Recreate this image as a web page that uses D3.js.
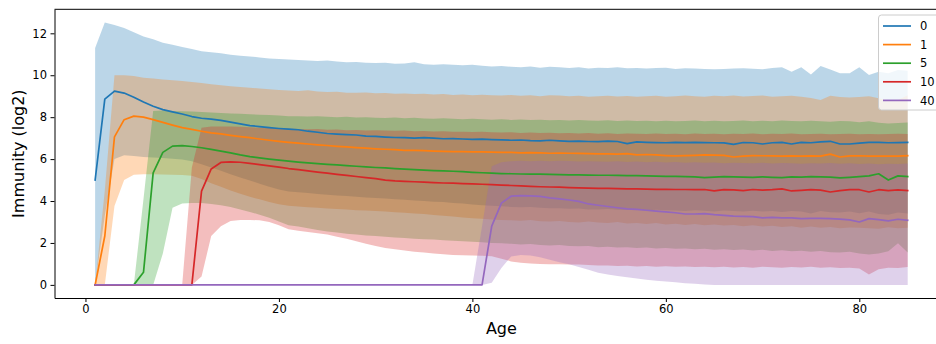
<!DOCTYPE html>
<html>
<head>
<meta charset="utf-8">
<script src="https://cdn.jsdelivr.net/npm/d3@7"></script>
<style>
  body { margin: 0; background: #fff; }
  svg { display: block; }
  text { font-family: "DejaVu Sans", sans-serif; fill: #000; }
</style>
</head>
<body>
<svg id="chart" width="936" height="344"></svg>
<script>
// Age axis
const ages = [
  1, 2, 3, 4, 5, 6, 7, 8, 9, 10,
  11, 12, 13, 14, 15, 16, 17, 18, 19, 20,
  21, 22, 23, 24, 25, 26, 27, 28, 29, 30,
  31, 32, 33, 34, 35, 36, 37, 38, 39, 40,
  41, 42, 43, 44, 45, 46, 47, 48, 49, 50,
  51, 52, 53, 54, 55, 56, 57, 58, 59, 60,
  61, 62, 63, 64, 65, 66, 67, 68, 69, 70,
  71, 72, 73, 74, 75, 76, 77, 78, 79, 80,
  81, 82, 83, 84, 85
];

const groups = ["0", "1", "5", "10", "40"];

// Group "0": mean line, lower and upper band
const mean0 = [
  5.0, 8.86, 9.24, 9.15, 8.95, 8.72, 8.52, 8.36, 8.25, 8.15,
  8.03, 7.95, 7.91, 7.85, 7.76, 7.68, 7.6, 7.55, 7.5, 7.46,
  7.43, 7.4, 7.33, 7.28, 7.22, 7.19, 7.17, 7.15, 7.1, 7.08,
  7.05, 7.03, 7.02, 7.0, 7.02, 7.0, 6.97, 6.98, 6.96, 6.94,
  6.95, 6.93, 6.92, 6.9, 6.91, 6.88, 6.87, 6.9, 6.87, 6.85,
  6.86, 6.84, 6.83, 6.86, 6.84, 6.74, 6.82, 6.8, 6.79, 6.78,
  6.8, 6.79, 6.8, 6.79, 6.78, 6.77, 6.7, 6.79, 6.78, 6.72,
  6.78, 6.8, 6.72, 6.8, 6.78, 6.82, 6.85, 6.72, 6.72, 6.76,
  6.8, 6.8, 6.78, 6.79, 6.8
];
const hi0 = [
  11.3, 12.52, 12.4, 12.25, 12.05, 11.85, 11.72, 11.55, 11.45, 11.35,
  11.25, 11.15, 11.1, 11.05, 10.98, 10.93, 10.9, 10.85, 10.8, 10.78,
  10.75, 10.73, 10.7, 10.68, 10.7, 10.66, 10.62, 10.63, 10.6, 10.58,
  10.6, 10.55, 10.56, 10.62, 10.52, 10.5, 10.52, 10.5, 10.48, 10.5,
  10.45, 10.42, 10.44, 10.4, 10.38, 10.42, 10.36, 10.4, 10.38, 10.35,
  10.38, 10.32, 10.36, 10.35, 10.38, 10.33, 10.35, 10.32, 10.34, 10.36,
  10.3, 10.33, 10.32, 10.3, 10.29, 10.3, 10.32, 10.33, 10.31, 10.29,
  10.35, 10.38, 10.17, 10.38, 10.04, 10.44, 10.28, 10.09, 10.09, 10.38,
  10.01, 10.17, 10.09, 10.25, 10.22
];
const lo0 = [
  0, 3.3, 6.0, 6.18, 6.15, 6.1, 6.08, 6.05, 6.02, 5.98,
  5.9, 5.75, 5.6, 5.45, 5.28, 5.12, 4.98, 4.83, 4.68, 4.55,
  4.45, 4.42, 4.38, 4.33, 4.3, 4.26, 4.24, 4.2, 4.17, 4.15,
  4.12, 4.08, 4.06, 4.03, 4.0, 3.97, 3.95, 3.9, 3.88, 3.84,
  3.8, 3.77, 3.75, 3.72, 3.7, 3.72, 3.68, 3.66, 3.65, 3.63,
  3.64, 3.6, 3.6, 3.62, 3.58, 3.57, 3.6, 3.55, 3.58, 3.56,
  3.55, 3.52, 3.56, 3.54, 3.5, 3.55, 3.52, 3.5, 3.54, 3.5,
  3.52, 3.48, 3.53, 3.5, 3.4, 3.52, 3.47, 3.45, 3.5, 3.42,
  3.5, 3.38, 3.35, 3.45, 3.4
];

// Group "1"
const mean1 = [
  0, 2.33, 7.06, 7.88, 8.05, 8.0, 7.88, 7.75, 7.62, 7.5,
  7.42, 7.33, 7.25, 7.2, 7.13, 7.07, 7.02, 6.96, 6.9, 6.85,
  6.8, 6.76, 6.72, 6.68, 6.65, 6.61, 6.58, 6.55, 6.52, 6.49,
  6.47, 6.45, 6.42, 6.42, 6.4, 6.38, 6.37, 6.36, 6.36, 6.34,
  6.34, 6.33, 6.32, 6.32, 6.3, 6.31, 6.3, 6.28, 6.29, 6.28,
  6.27, 6.26, 6.25, 6.25, 6.24, 6.26, 6.2, 6.22, 6.2, 6.17,
  6.15, 6.17, 6.18, 6.2, 6.19, 6.18, 6.1, 6.14, 6.17, 6.16,
  6.15, 6.14, 6.15, 6.14, 6.15, 6.14, 6.24, 6.1, 6.15, 6.16,
  6.14, 6.14, 6.14, 6.14, 6.16
];
const hi1 = [
  0, 4.5, 10.0, 10.0, 9.96, 9.88, 9.84, 9.8, 9.76, 9.72,
  9.68, 9.63, 9.57, 9.52, 9.48, 9.44, 9.4, 9.37, 9.33, 9.3,
  9.27, 9.25, 9.28, 9.22, 9.2, 9.21, 9.17, 9.16, 9.18, 9.14,
  9.15, 9.12, 9.13, 9.1, 9.12, 9.08, 9.1, 9.06, 9.08, 9.04,
  9.07, 9.05, 9.03, 9.06, 9.02, 9.04, 9.0, 9.05, 9.03, 9.0,
  9.02, 8.98, 9.0, 9.02, 8.99, 9.01, 8.98, 9.0, 9.02, 8.98,
  9.0, 9.03, 9.0, 8.98, 9.02, 9.0, 9.03, 8.99, 9.01, 9.03,
  8.98, 9.0, 9.02, 8.97, 8.92, 8.82, 9.02, 8.96, 8.94, 8.96,
  9.0, 8.9, 8.78, 8.82, 9.05
];
const lo1 = [
  0, 0, 3.76, 5.0, 5.25, 5.28, 5.28, 5.27, 5.25, 5.24,
  5.2, 5.05, 4.85, 4.68, 4.5, 4.35, 4.2, 4.08, 3.95, 3.85,
  3.78, 3.74, 3.7, 3.68, 3.64, 3.62, 3.6, 3.56, 3.55, 3.52,
  3.5, 3.46, 3.44, 3.4, 3.38, 3.33, 3.3, 3.26, 3.22, 3.18,
  3.16, 3.12, 3.1, 3.08, 3.06, 3.1, 3.04, 3.02, 3.05, 3.0,
  2.98, 3.02, 2.97, 2.95, 3.0, 2.93, 2.95, 2.9, 2.95, 2.88,
  2.92, 2.86, 2.9, 2.85, 2.88, 2.83, 2.86, 2.8, 2.84, 2.78,
  2.82, 2.76, 2.8, 2.73, 2.78, 2.72, 2.76, 2.7, 2.74, 2.72,
  2.7, 2.68, 2.75, 2.7, 2.72
];

// Group "5"
const mean2 = [
  0, 0, 0, 0, 0, 0.6, 5.34, 6.32, 6.62, 6.64,
  6.6, 6.54, 6.46, 6.38, 6.3, 6.2, 6.12, 6.06, 6.0, 5.95,
  5.9, 5.86, 5.82, 5.78, 5.75, 5.72, 5.69, 5.66, 5.63, 5.6,
  5.58, 5.55, 5.52, 5.5, 5.47, 5.45, 5.44, 5.42, 5.4, 5.37,
  5.35, 5.33, 5.31, 5.3, 5.29, 5.28, 5.28, 5.27, 5.26, 5.25,
  5.25, 5.24, 5.23, 5.23, 5.22, 5.21, 5.21, 5.2, 5.19, 5.18,
  5.18, 5.16, 5.15, 5.12, 5.14, 5.16, 5.15, 5.14, 5.13, 5.15,
  5.13, 5.12, 5.15, 5.14, 5.16, 5.15, 5.14, 5.1, 5.13, 5.16,
  5.2, 5.3, 5.0, 5.2, 5.17
];
const hi2 = [
  0, 0, 0, 0, 0, 4.1, 8.3, 8.32, 8.3, 8.28,
  8.27, 8.25, 8.22, 8.2, 8.18, 8.16, 8.14, 8.12, 8.1, 8.08,
  8.05, 8.04, 8.03, 8.05, 8.02, 8.0, 8.02, 7.98, 8.0, 7.97,
  7.96, 7.98, 7.95, 7.97, 7.94, 7.93, 7.95, 7.92, 7.9, 7.92,
  7.9, 7.88, 7.9, 7.87, 7.89, 7.86, 7.88, 7.85, 7.87, 7.84,
  7.86, 7.84, 7.83, 7.85, 7.82, 7.84, 7.82, 7.83, 7.81, 7.83,
  7.8, 7.82, 7.84, 7.81, 7.83, 7.8, 7.82, 7.84, 7.8, 7.83,
  7.81, 7.84, 7.82, 7.8, 7.83, 7.8, 7.78, 7.82, 7.8, 7.76,
  7.8, 7.74, 7.7, 7.72, 7.75
];
const lo2 = [
  0, 0, 0, 0, 0, 0, 0, 1.5, 3.68, 3.88,
  3.9, 3.9, 3.86, 3.8, 3.72, 3.6, 3.48, 3.35, 3.2, 3.02,
  2.85, 2.78, 2.7, 2.62, 2.55, 2.5, 2.44, 2.4, 2.36, 2.33,
  2.3, 2.26, 2.24, 2.2, 2.18, 2.16, 2.13, 2.1, 2.08, 2.06,
  2.03, 2.0, 1.98, 1.96, 1.93, 1.95, 1.9, 1.88, 1.9, 1.85,
  1.84, 1.86, 1.8, 1.82, 1.78, 1.8, 1.76, 1.78, 1.74, 1.76,
  1.72, 1.74, 1.7, 1.72, 1.68, 1.7, 1.66, 1.69, 1.64, 1.67,
  1.62, 1.65, 1.6, 1.63, 1.58, 1.62, 1.56, 1.55, 1.58, 1.5,
  1.45, 1.5, 1.6, 1.98, 1.55
];

// Group "10"
const mean3 = [
  0, 0, 0, 0, 0, 0, 0, 0, 0, 0,
  0, 4.47, 5.53, 5.84, 5.87, 5.85, 5.8, 5.74, 5.68, 5.62,
  5.55, 5.5, 5.44, 5.38, 5.33, 5.27, 5.22, 5.17, 5.12, 5.07,
  5.0, 4.96, 4.94, 4.92, 4.9, 4.88, 4.86, 4.85, 4.83, 4.82,
  4.8, 4.78, 4.76, 4.74, 4.72, 4.7, 4.68, 4.67, 4.66, 4.64,
  4.63, 4.62, 4.6, 4.6, 4.59, 4.58, 4.58, 4.57, 4.56, 4.56,
  4.55, 4.55, 4.54, 4.55, 4.48, 4.54, 4.53, 4.5, 4.55, 4.52,
  4.54, 4.58, 4.48, 4.51, 4.54, 4.52, 4.43, 4.5, 4.54, 4.54,
  4.43, 4.54, 4.5, 4.53, 4.5
];
const hi3 = [
  0, 0, 0, 0, 0, 0, 0, 0, 0, 0,
  5.6, 7.5, 7.56, 7.56, 7.55, 7.54, 7.52, 7.5, 7.48, 7.47,
  7.45, 7.44, 7.42, 7.43, 7.4, 7.41, 7.38, 7.39, 7.37, 7.38,
  7.36, 7.35, 7.36, 7.33, 7.34, 7.32, 7.33, 7.3, 7.31, 7.29,
  7.3, 7.28, 7.27, 7.28, 7.25, 7.27, 7.24, 7.26, 7.23, 7.25,
  7.22, 7.24, 7.21, 7.23, 7.2, 7.22, 7.21, 7.2, 7.22, 7.2,
  7.21, 7.19, 7.22, 7.2, 7.21, 7.19, 7.21, 7.2, 7.22, 7.19,
  7.21, 7.2, 7.22, 7.19, 7.2, 7.21, 7.18, 7.2, 7.21, 7.19,
  7.2, 7.18, 7.2, 7.21, 7.2
];
const lo3 = [
  0, 0, 0, 0, 0, 0, 0, 0, 0, 0,
  0, 0.4, 2.33, 2.8, 3.05, 3.1, 3.1, 3.08, 3.0, 2.85,
  2.65, 2.58, 2.52, 2.46, 2.4, 2.3, 2.2, 2.08, 1.96, 1.86,
  1.76, 1.7, 1.64, 1.58, 1.54, 1.5, 1.46, 1.43, 1.41, 1.4,
  1.39, 1.36, 1.25, 1.12, 1.05, 1.02, 1.0, 0.98, 0.98, 0.97,
  0.97, 0.95, 0.93, 0.92, 0.9, 0.91, 0.88, 0.9, 0.87, 0.89,
  0.86, 0.88, 0.85, 0.87, 0.84, 0.86, 0.83, 0.85, 0.82, 0.86,
  0.84, 0.82, 0.85, 0.83, 0.86, 0.82, 0.84, 0.8, 0.82, 0.78,
  0.5, 0.75, 0.82, 0.8, 0.85
];

// Group "40"
const mean4 = [
  0, 0, 0, 0, 0, 0, 0, 0, 0, 0,
  0, 0, 0, 0, 0, 0, 0, 0, 0, 0,
  0, 0, 0, 0, 0, 0, 0, 0, 0, 0,
  0, 0, 0, 0, 0, 0, 0, 0, 0, 0,
  0, 2.8, 3.9, 4.23, 4.26, 4.25, 4.22, 4.15, 4.1, 4.05,
  3.98, 3.86, 3.8, 3.74, 3.68, 3.63, 3.6, 3.56, 3.52, 3.48,
  3.44, 3.38, 3.38, 3.4, 3.35, 3.32, 3.28, 3.27, 3.26, 3.2,
  3.22, 3.2, 3.2, 3.16, 3.17, 3.17, 3.16, 3.14, 3.1, 3.0,
  3.16, 3.11, 3.05, 3.13, 3.08
];
const hi4 = [
  0, 0, 0, 0, 0, 0, 0, 0, 0, 0,
  0, 0, 0, 0, 0, 0, 0, 0, 0, 0,
  0, 0, 0, 0, 0, 0, 0, 0, 0, 0,
  0, 0, 0, 0, 0, 0, 0, 0, 0, 0,
  2.8, 5.66, 5.85, 5.9, 5.92, 5.9, 5.92, 5.9, 5.92, 5.91,
  5.88, 5.9, 5.89, 5.87, 5.9, 5.86, 5.88, 5.85, 5.87, 5.84,
  5.86, 5.83, 5.85, 5.82, 5.84, 5.8, 5.83, 5.81, 5.8, 5.82,
  5.79, 5.81, 5.8, 5.78, 5.8, 5.79, 5.81, 5.78, 5.8, 5.77,
  5.79, 5.76, 5.78, 5.77, 5.79
];
const lo4 = [
  0, 0, 0, 0, 0, 0, 0, 0, 0, 0,
  0, 0, 0, 0, 0, 0, 0, 0, 0, 0,
  0, 0, 0, 0, 0, 0, 0, 0, 0, 0,
  0, 0, 0, 0, 0, 0, 0, 0, 0, 0,
  0, 0.1, 0.8, 1.35, 1.42, 1.4, 1.32, 1.2, 1.08, 0.98,
  0.85, 0.72, 0.58, 0.5, 0.42, 0.36, 0.3, 0.25, 0.2, 0.16,
  0.12, 0.08, 0.05, 0.02, 0, 0, 0, 0, 0, 0,
  0, 0, 0, 0, 0, 0, 0, 0, 0, 0,
  0, 0, 0, 0, 0
];

const xTicks = [0, 20, 40, 60, 80];
const yTicks = [0, 2, 4, 6, 8, 10, 12];
const colors = ["#1f77b4", "#ff7f0e", "#2ca02c", "#d62728", "#9467bd"];

const series = [
  { name: groups[0], mean: mean0, lo: lo0, hi: hi0, color: colors[0] },
  { name: groups[1], mean: mean1, lo: lo1, hi: hi1, color: colors[1] },
  { name: groups[2], mean: mean2, lo: lo2, hi: hi2, color: colors[2] },
  { name: groups[3], mean: mean3, lo: lo3, hi: hi3, color: colors[3] },
  { name: groups[4], mean: mean4, lo: lo4, hi: hi4, color: colors[4] }
];

// Plot box (the right edge runs past the page edge)
const box = { left: 54.5, right: 948.3, top: 9.3, bottom: 298 };

// Domains with 5% padding on each side
const xExt = d3.extent(ages);
const xPad = (xExt[1] - xExt[0]) * 0.05;
const yMin = d3.min(series, s => d3.min(s.lo));
const yMax = d3.max(series, s => d3.max(s.hi));
const yPad = (yMax - yMin) * 0.05;

const x = d3.scaleLinear().domain([xExt[0] - xPad, xExt[1] + xPad]).range([box.left, box.right]);
const y = d3.scaleLinear().domain([yMin - yPad, yMax + yPad]).range([box.bottom, box.top]);

const svg = d3.select("#chart");

// Shaded bands
const gBands = svg.append("g");
series.forEach(s => {
  const area = d3.area()
    .x((d, i) => x(ages[i]))
    .y0((d, i) => y(s.lo[i]))
    .y1((d, i) => y(s.hi[i]));
  gBands.append("path")
    .datum(s.mean)
    .attr("d", area)
    .attr("fill", s.color)
    .attr("fill-opacity", 0.3)
    .attr("stroke", "none");
});

// Mean lines
const gLines = svg.append("g");
series.forEach(s => {
  const line = d3.line()
    .x((d, i) => x(ages[i]))
    .y(d => y(d));
  gLines.append("path")
    .datum(s.mean)
    .attr("d", line)
    .attr("fill", "none")
    .attr("stroke", s.color)
    .attr("stroke-width", 1.7)
    .attr("stroke-linejoin", "round")
    .attr("stroke-linecap", "square");
});

// Axes
const tickFont = 11.5;
const xAxis = svg.append("g")
  .attr("transform", `translate(0,${box.bottom})`)
  .call(d3.axisBottom(x).tickValues(xTicks).tickSize(4).tickSizeOuter(0).tickPadding(3.3).tickFormat(d3.format("d")));
const yAxis = svg.append("g")
  .attr("transform", `translate(${box.left},0)`)
  .call(d3.axisLeft(y).tickValues(yTicks).tickSize(4).tickSizeOuter(0).tickPadding(3.5).tickFormat(d3.format("d")));

[xAxis, yAxis].forEach(g => {
  g.attr("font-family", null).attr("font-size", null);
  g.select(".domain").attr("stroke", "#000").attr("stroke-width", 1);
  g.selectAll(".tick line").attr("stroke", "#000").attr("stroke-width", 1);
  g.selectAll(".tick text")
    .style("font-family", "'DejaVu Sans', sans-serif")
    .style("font-size", tickFont + "px")
    .attr("fill", "#000");
});

// Top and right frame lines
svg.append("line")
  .attr("x1", box.left).attr("x2", box.right)
  .attr("y1", box.top).attr("y2", box.top)
  .attr("stroke", "#000").attr("stroke-width", 1);
svg.append("line")
  .attr("x1", box.right).attr("x2", box.right)
  .attr("y1", box.top).attr("y2", box.bottom)
  .attr("stroke", "#000").attr("stroke-width", 1);

// Axis titles
svg.append("text")
  .attr("x", (box.left + box.right) / 2)
  .attr("y", 333.5)
  .attr("text-anchor", "middle")
  .style("font-size", "16px")
  .text("Age");
svg.append("text")
  .attr("transform", `translate(24,${(box.top + box.bottom) / 2}) rotate(-90)`)
  .attr("text-anchor", "middle")
  .style("font-size", "16px")
  .text("Immunity (log2)");

// Legend
const legend = svg.append("g").attr("transform", "translate(878.5,15)");
legend.append("rect")
  .attr("x", 0).attr("y", 0)
  .attr("width", 75).attr("height", 95)
  .attr("rx", 3).attr("ry", 3)
  .attr("fill", "#fff").attr("fill-opacity", 0.8)
  .attr("stroke", "#cccccc").attr("stroke-width", 1);
series.forEach((s, i) => {
  const cy = 11 + i * 18.6;
  legend.append("line")
    .attr("x1", 4.5).attr("x2", 32.5)
    .attr("y1", cy).attr("y2", cy)
    .attr("stroke", s.color).attr("stroke-width", 1.7);
  legend.append("text")
    .attr("x", 41.5).attr("y", cy)
    .attr("dy", "0.36em")
    .style("font-size", tickFont + "px")
    .text(s.name);
});
</script>
</body>
</html>
